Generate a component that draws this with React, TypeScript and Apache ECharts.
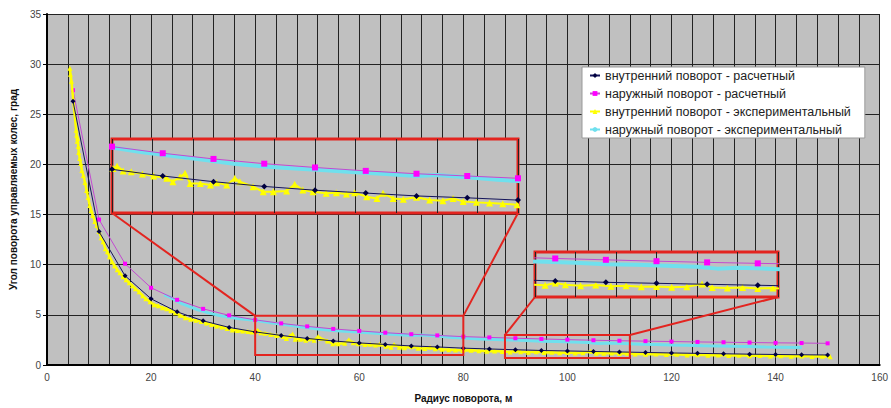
import React, { useEffect, useRef } from 'react';
import * as echarts from 'echarts';

const seriesNames = [
  'внутренний поворот - расчетный',
  'наружный поворот - расчетный',
  'внутренний поворот - экспериментальный',
  'наружный поворот - экспериментальный',
];

const calcX = [5, 10, 15, 20, 25, 30, 35, 40, 45, 50, 55, 60, 65, 70, 75, 80, 85, 90, 95, 100, 105, 110, 115, 120, 125, 130, 135, 140, 145, 150];
const innerCalcY = [26.3, 13.3, 8.9, 6.6, 5.3, 4.4, 3.75, 3.3, 2.95, 2.65, 2.4, 2.2, 2.05, 1.9, 1.8, 1.68, 1.6, 1.52, 1.45, 1.4, 1.35, 1.3, 1.25, 1.2, 1.16, 1.12, 1.08, 1.05, 1.02, 1.0];
const outerCalcY = [27.4, 14.5, 10.1, 7.7, 6.5, 5.6, 4.95, 4.5, 4.15, 3.85, 3.6, 3.4, 3.22, 3.07, 2.95, 2.83, 2.75, 2.67, 2.6, 2.53, 2.47, 2.42, 2.38, 2.34, 2.3, 2.27, 2.24, 2.21, 2.19, 2.16];

const innerExp: [number, number][] = [
  [4.4, 29.6], [4.5, 29.0], [4.7, 28.3], [5.6, 23.4], [5.7, 22.9], [5.8, 22.3], [5.9, 22.6], [6.0, 21.8], [6.1, 21.2],
  [6.3, 20.6], [6.5, 20.1], [6.7, 19.4], [7.0, 18.9], [7.3, 18.2], [7.6, 17.4], [7.9, 16.7], [8.2, 15.9], [8.5, 15.4],
  [8.8, 14.9], [9.2, 14.3], [9.6, 13.9], [10.0, 13.3], [10.4, 12.7], [10.8, 12.3], [11.2, 11.6], [11.6, 11.3], [12.0, 10.8],
  [12.5, 10.3], [13.0, 9.9], [13.5, 9.5], [14.0, 9.2], [14.6, 8.8], [15.2, 8.5], [15.8, 8.2], [16.4, 7.9], [17.0, 7.6],
  [17.7, 7.3], [18.4, 6.9], [19.0, 6.6], [19.8, 6.3], [20.6, 6.0], [21.4, 5.9], [22.2, 5.7], [23.0, 5.6], [23.8, 5.4],
  [24.7, 5.2], [25.6, 4.95], [26.6, 4.7], [27.6, 4.55], [28.6, 4.45], [29.6, 4.35], [30.6, 4.2], [31.6, 4.05], [32.6, 3.9],
  [33.6, 3.8], [34.6, 3.65], [35.6, 3.5], [36.6, 3.45], [37.6, 3.4], [38.6, 3.35], [39.4, 3.3], [40.1, 3.35], [40.5, 3.47],
  [41.1, 3.22], [41.9, 3.17], [43.0, 3.05], [44.1, 2.95], [45.4, 2.83], [46.0, 2.65], [46.7, 2.91], [47.2, 3.09], [47.7, 2.56],
  [48.7, 2.56], [49.7, 2.48], [50.3, 2.6], [51.3, 2.48], [52.1, 2.83], [52.6, 2.65], [53.9, 2.39], [54.9, 2.12], [55.9, 2.12],
  [57.2, 2.16], [58.0, 2.51], [58.8, 2.21], [59.8, 2.12], [61.1, 2.04], [62.1, 2.07], [63.1, 2.0], [63.9, 2.07], [65.1, 1.86],
  [66.1, 1.77], [66.7, 2.04], [67.7, 1.77], [68.7, 1.72], [70.0, 1.83], [71.3, 1.68], [72.6, 1.65], [73.6, 1.77], [74.6, 1.61],
  [75.9, 1.56], [77.2, 1.53], [78.5, 1.49], [79.9, 1.44], [81.5, 1.46], [83.0, 1.42], [84.5, 1.38], [86.0, 1.4], [87.5, 1.34],
  [89.0, 1.3], [90.0, 1.42], [91.0, 1.33], [92.5, 1.28], [94.0, 1.31], [95.5, 1.25], [97.0, 1.27], [98.5, 1.22], [100.0, 1.24],
  [101.5, 1.2], [103.0, 1.22], [104.5, 1.36], [105.5, 1.18], [107.0, 1.16], [108.5, 1.19], [110.0, 1.14], [111.5, 1.16],
  [113.0, 1.1], [115.0, 1.08], [117.0, 1.1], [119.0, 1.04], [121.0, 1.06], [123.0, 1.0], [125.0, 1.02], [127.0, 0.98],
  [129.0, 1.0], [131.0, 0.95], [133.0, 0.97], [135.0, 0.92], [137.0, 0.94], [139.0, 0.9], [141.0, 0.92], [143.0, 0.88],
  [145.0, 0.9], [147.0, 0.86], [149.0, 0.88], [150.5, 0.83],
];

const outerExp: [number, number][] = [
  [22.5, 7.0], [23.5, 6.8], [24.5, 6.5], [26, 6.1], [27.5, 5.8], [29, 5.5], [31, 5.2], [33, 4.95], [35, 4.75], [37, 4.6],
  [40, 4.45], [43, 4.2], [46, 4.0], [49, 3.8], [52, 3.6], [55, 3.45], [58, 3.35], [61, 3.25], [64, 3.15], [67, 3.05],
  [70, 2.95], [72, 3.0], [75, 2.88], [78, 2.75], [80, 2.68], [83, 2.6], [86, 2.55], [89, 2.5], [92, 2.45], [95, 2.38],
  [98, 2.35], [101, 2.3], [104, 2.25], [106, 2.15], [108, 2.2], [111, 2.15], [114, 2.08], [117, 2.05], [120, 2.0],
  [123, 1.98], [126, 1.93], [129, 1.9], [132, 1.87], [135, 1.85], [138, 1.8], [141, 1.78], [145, 1.75],
];

const zoomBoxes = [
  { x: [40, 80], y: [1, 4.9] },
  { x: [88, 112], y: [0.7, 3] },
];

const insetRects = [
  { left: 112, top: 139, width: 406, height: 74 },
  { left: 535, top: 252, width: 243, height: 45 },
];

const RED = '#e3241f';
const FONT = 'Liberation Sans, Arial, sans-serif';

export default function App() {
  const ref = useRef<HTMLDivElement>(null);
  useEffect(() => {
    const chart = echarts.init(ref.current!, null, { renderer: 'svg' });

    const makeSeries = (g: number) => {
      const big = g > 0;
      return [
        {
          name: seriesNames[3], type: 'line', xAxisIndex: g, yAxisIndex: g, z: 2,
          data: outerExp, symbol: 'none', clip: true,
          lineStyle: { color: '#6fe0ee', width: big ? 4 : 3 },
          itemStyle: { color: '#6fe0ee' },
        },
        {
          name: seriesNames[1], type: 'line', xAxisIndex: g, yAxisIndex: g, z: 3,
          data: calcX.map((x, i) => [x, outerCalcY[i]]), symbol: 'rect', symbolSize: big ? 6 : 4, clip: true,
          lineStyle: { color: '#c24ad0', width: 1 },
          itemStyle: { color: '#ff00ff' },
        },
        {
          name: seriesNames[2], type: 'line', xAxisIndex: g, yAxisIndex: g, z: 4,
          data: innerExp, symbol: 'triangle', symbolSize: big ? 7 : 5, clip: true,
          lineStyle: { color: '#ffff00', width: big ? 2 : 2.5 },
          itemStyle: { color: '#ffff00' },
        },
        {
          name: seriesNames[0], type: 'line', xAxisIndex: g, yAxisIndex: g, z: 5,
          data: calcX.map((x, i) => [x, innerCalcY[i]]), symbol: 'diamond', symbolSize: big ? 6 : 5, clip: true,
          lineStyle: { color: '#14145a', width: 1 },
          itemStyle: { color: '#000040' },
        },
      ];
    };

    const insetX = (g: number) => ({
      type: 'value', gridIndex: g, min: zoomBoxes[g - 1].x[0], max: zoomBoxes[g - 1].x[1], interval: 4, z: 1,
      axisLine: { show: false }, axisTick: { show: false }, axisLabel: { show: false },
      splitLine: { show: true, lineStyle: { color: '#222', width: 1 } },
    });
    const insetY = (g: number) => ({
      type: 'value', gridIndex: g, min: zoomBoxes[g - 1].y[0], max: zoomBoxes[g - 1].y[1], z: 1,
      axisLine: { show: false }, axisTick: { show: false }, axisLabel: { show: false },
      splitLine: { show: false },
    });

    const option: any = {
      animation: false,
      backgroundColor: '#ffffff',
      textStyle: { fontFamily: FONT },
      grid: [
        { left: 47, top: 14, width: 840, height: 357, show: true, backgroundColor: '#c0c0c0', borderWidth: 0, z: 0 },
        { ...insetRects[0], show: true, backgroundColor: '#c0c0c0', borderColor: RED, borderWidth: 3, z: 1 },
        { ...insetRects[1], show: true, backgroundColor: '#c0c0c0', borderColor: RED, borderWidth: 3, z: 1 },
      ],
      xAxis: [
        {
          type: 'value', gridIndex: 0, min: 0, max: 160, interval: 20,
          name: 'Радиус поворота, м', nameLocation: 'middle', nameGap: 28,
          nameTextStyle: { fontSize: 10, fontWeight: 'bold', color: '#111', fontFamily: FONT },
          axisLine: { show: true, onZero: false, lineStyle: { color: '#000', width: 2 } },
          axisTick: { show: false },
          axisLabel: { fontSize: 10, color: '#444', margin: 7, fontFamily: FONT, hideOverlap: false },
          splitLine: { show: true, lineStyle: { color: '#222', width: 1 } },
        },
        insetX(1),
        insetX(2),
        {
          type: 'value', gridIndex: 0, min: 0, max: 160, interval: 4, position: 'bottom',
          axisLine: { show: false }, axisTick: { show: false }, axisLabel: { show: false },
          splitLine: { show: true, lineStyle: { color: '#222', width: 1 } },
        },
      ],
      yAxis: [
        {
          type: 'value', gridIndex: 0, min: 0, max: 35, interval: 5,
          name: 'Угол поворота управляемых колес, град', nameLocation: 'middle', nameGap: 22,
          nameTextStyle: { fontSize: 10, fontWeight: 'bold', color: '#111', fontFamily: FONT },
          axisLine: { show: true, onZero: false, lineStyle: { color: '#000', width: 2 } },
          axisTick: { show: true, length: 4, lineStyle: { color: '#000' } },
          axisLabel: { fontSize: 10, color: '#444', margin: 6, fontFamily: FONT },
          splitLine: { show: true, lineStyle: { color: '#222', width: 1 } },
        },
        insetY(1),
        insetY(2),
      ],
      legend: {
        data: seriesNames,
        orient: 'vertical',
        left: 582, top: 67,
        backgroundColor: '#ffffff',
        borderColor: '#999', borderWidth: 1,
        padding: [2, 14, 2, 7],
        itemGap: 5,
        itemWidth: 10, itemHeight: 6,
        textStyle: { fontSize: 12.5, color: '#222', fontFamily: FONT },
        z: 10,
      },
      series: [...makeSeries(0), ...makeSeries(1), ...makeSeries(2)],
    };
    chart.setOption(option);

    const px = (x: number, y: number) => chart.convertToPixel({ gridIndex: 0 } as any, [x, y]) as number[];
    const graphics: any[] = [];
    zoomBoxes.forEach((b, i) => {
      const tl = px(b.x[0], b.y[1]);
      const br = px(b.x[1], b.y[0]);
      graphics.push({
        type: 'rect', z: 20,
        shape: { x: tl[0], y: tl[1], width: br[0] - tl[0], height: br[1] - tl[1] },
        style: { fill: 'none', stroke: RED, lineWidth: 2 },
      });
      const r = insetRects[i];
      const tr = px(b.x[1], b.y[1]);
      graphics.push({
        type: 'line', z: 20,
        shape: { x1: r.left, y1: r.top + r.height, x2: tl[0], y2: tl[1] },
        style: { stroke: RED, lineWidth: 2 },
      });
      graphics.push({
        type: 'line', z: 20,
        shape: { x1: r.left + r.width, y1: r.top + r.height, x2: tr[0], y2: tr[1] },
        style: { stroke: RED, lineWidth: 2 },
      });
    });
    chart.setOption({ graphic: graphics });

    return () => chart.dispose();
  }, []);
  return (
    <div
      ref={ref}
      style={{ position: 'absolute', left: 0, top: 0, width: 891, height: 408, background: '#fff' }}
    />
  );
}
